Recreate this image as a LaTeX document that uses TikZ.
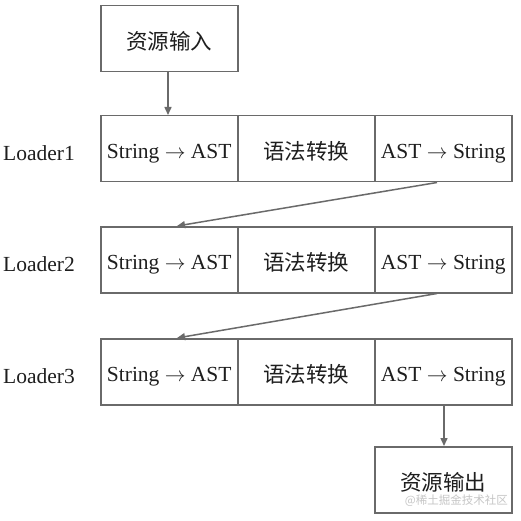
\documentclass[tikz,border=0pt]{standalone}
\usepackage{fontspec}
\setmainfont{Liberation Serif}
\newfontfamily\cjk{Noto Sans CJK SC}
\usetikzlibrary{arrows.meta}
\definecolor{linec}{HTML}{6A6A6A}
\definecolor{textc}{HTML}{1E1E1E}
\newcommand{\rarr}{ $\rightarrow$ }
\tikzset{
  cell/.style={draw=linec, line width=1.5pt, minimum width=137pt, minimum height=66pt, inner sep=0pt, text=textc, font=\fontsize{21.5}{24}\selectfont, anchor=north west, text height=19pt, text depth=0pt},
  cjkcell/.style={cell, font=\cjk\fontsize{21.5}{24}\selectfont, text height=22pt},
  lbl/.style={text=textc, font=\fontsize{21.5}{24}\selectfont, anchor=west, inner sep=0pt},
  conn/.style={draw=linec, line width=1.5pt, -{Triangle[length=8pt,width=7pt]}},
}
\begin{document}
\begin{tikzpicture}[x=1pt,y=-1pt]
\useasboundingbox[fill=white] (0,0) rectangle (521,521);
\node[cjkcell] (in) at (100,5) {资源输入};
\foreach \i/\y in {1/115,2/226,3/338}{
  \node[cell] (a\i) at (100,\y) {String\rarr AST};
  \node[cjkcell] (b\i) at (237,\y) {语法转换};
  \node[cell] (c\i) at (374,\y) {AST\rarr String};
  \node[lbl] (l\i) at (3,\y+38) {Loader\i};
}
\node[cjkcell] (out) at (374,446) {资源输出};
\node[text=gray!45, font=\cjk\fontsize{11.5}{13}\selectfont, anchor=east, inner sep=0pt] (wm) at (508,501) {@稀土掘金技术社区};
\draw[conn] (in.south west)++(68,0) coordinate (s0) -- (s0 |- a1.north);
\draw[conn] ([xshift=63pt]c1.south west) -- ([xshift=77pt]a2.north west);
\draw[conn] ([xshift=63pt]c2.south west) -- ([xshift=77pt]a3.north west);
\draw[conn] ([xshift=70pt]c3.south west) -- ([xshift=70pt]out.north west);
\end{tikzpicture}
\end{document}
